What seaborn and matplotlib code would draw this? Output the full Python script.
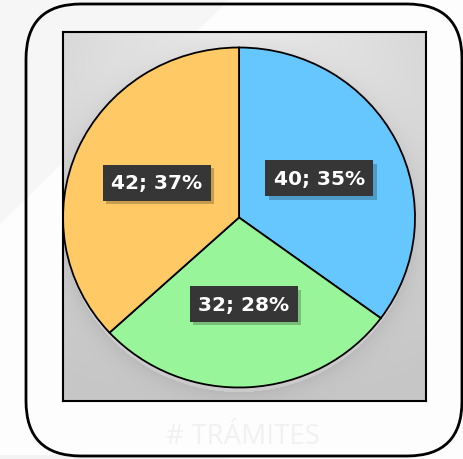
import numpy as np
import matplotlib
matplotlib.use("Agg")
import matplotlib.pyplot as plt
import matplotlib.patheffects as pe
from matplotlib.patches import FancyBboxPatch, Polygon, Rectangle
from matplotlib.transforms import IdentityTransform
import seaborn as sns

# Data
values = [40, 32, 42]
colors = ["#66C7FF", "#99F599", "#FFC966"]
title = "# TRÁMITES"

sns.set_theme(style="white")
plt.rcParams["font.family"] = ["DejaVu Sans"]

W, H = 464, 460
fig = plt.figure(figsize=(W / 100, H / 100), dpi=100)
fig.patch.set_facecolor("#fdfdfd")

# faint background shapes
fig.patches.append(Polygon([(0, H), (230, H), (0, H - 225)], closed=True,
                           transform=IdentityTransform(), facecolor="#f6f6f6",
                           edgecolor="none", zorder=-2))
fig.patches.append(Rectangle((0, 0), 230, 4, transform=IdentityTransform(),
                             facecolor="#f3f3f3", edgecolor="none", zorder=-2))

# rounded outer frame
frame = FancyBboxPatch((26, H - 457), 436, 452,
                       boxstyle="round,pad=0,rounding_size=55",
                       transform=IdentityTransform(), facecolor="none",
                       edgecolor="black", linewidth=2.0, zorder=-1)
fig.patches.append(frame)

# faint caption
fig.text(243 / W, 1 - 437 / H, title, ha="center", va="center",
         fontsize=20, color="#f1f1f1", family="Open Sans", zorder=0)

# plot area
x0, x1, y0, y1 = 63, 426, 33, 402
ax = fig.add_axes([x0 / W, 1 - y1 / H, (x1 - x0) / W, (y1 - y0) / H])
ax.set_zorder(2)

cx, cy, rx, ry = 239, 218.5, 176, 170
xmin, xmax = (x0 - cx) / rx, (x1 - cx) / rx
ymin, ymax = -(y1 - cy) / ry, (cy - y0) / ry

# background gradient with soft pie shadow
xs = np.linspace(xmin, xmax, 363)
ys = np.linspace(ymax, ymin, 369)
X, Y = np.meshgrid(xs, ys)
dist_bg = np.hypot(X * rx, (Y - 0.75) * ry)
bg = 0.94 - 0.16 * np.clip(dist_bg / 330, 0, 1)
d = np.hypot(X, Y + 0.03)
shadow = np.where(d > 1, np.exp(-(d - 1) / 0.07), 0)
bg = bg - 0.07 * shadow
ax.imshow(np.dstack([bg, bg, bg]), extent=(xmin, xmax, ymin, ymax),
          origin="upper", aspect="auto", zorder=0, interpolation="bilinear")

total = sum(values)


def fmt(pct):
    v = int(round(pct * total / 100.0))
    return f"{v}; {pct:.0f}%"


wedges, texts, autotexts = ax.pie(
    values, colors=colors, startangle=90, counterclock=False,
    radius=1.0, autopct=fmt, pctdistance=0.51, frame=True,
    wedgeprops=dict(edgecolor="black", linewidth=1.3),
    textprops=dict(color="white", fontsize=14.5, fontweight="bold"),
)
for w in wedges:
    w.set_zorder(2)
for t in autotexts:
    t.set_zorder(5)
    t.set_bbox(dict(boxstyle="square,pad=0.42", facecolor="#363636",
                    edgecolor="none"))
    t.get_bbox_patch().set_path_effects(
        [pe.SimplePatchShadow(offset=(2.5, -2.5), shadow_rgbFace="#000000", alpha=0.22),
         pe.Normal()])

ax.set_xlim(xmin, xmax)
ax.set_ylim(ymin, ymax)
ax.set_aspect("auto")
ax.set_xticks([])
ax.set_yticks([])
for s in ax.spines.values():
    s.set_visible(True)
    s.set_color("black")
    s.set_linewidth(1.5)

fig.savefig("out.png", dpi=100, facecolor=fig.get_facecolor())
